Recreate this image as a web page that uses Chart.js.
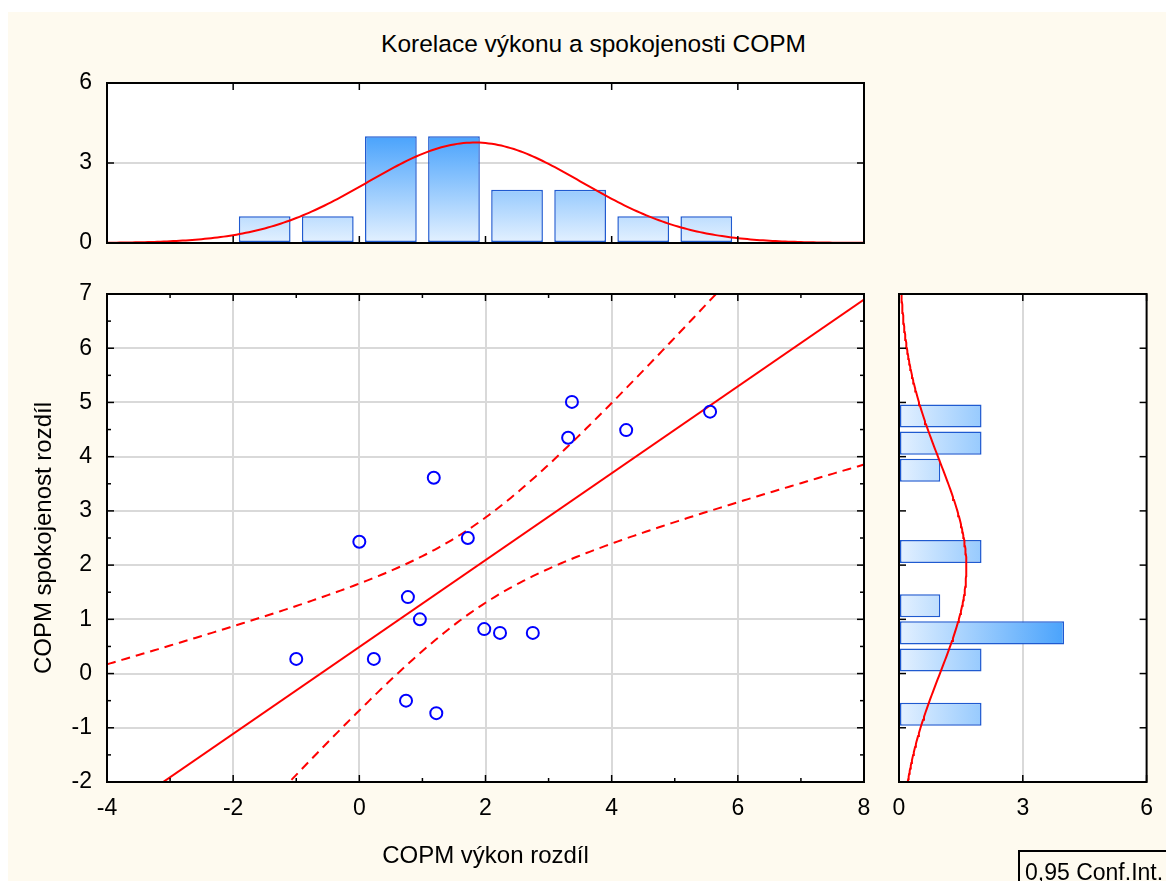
<!DOCTYPE html>
<html>
<head>
<meta charset="utf-8">
<script src="https://cdn.jsdelivr.net/npm/chart.js@4.4.0/dist/chart.umd.min.js"></script>
<style>
  body { margin: 0; width: 1166px; height: 881px; overflow: hidden; background: #fff; position: relative;
         font-family: "Liberation Sans", Arial, sans-serif; }
  #bg { position: absolute; left: 8px; top: 12px; width: 1158px; height: 869px; background: #fefaef; }
  canvas { position: absolute; left: 0; top: 0; }
  #title { position: absolute; left: 0; top: 31px; width: 1187px; text-align: center; font-size: 24.5px; line-height: 25px; color: #000; }
  #legend { position: absolute; left: 1018px; top: 850px; width: 200px; height: 40px; border: 2px solid #000;
            font-size: 23px; line-height: 40px; padding-left: 5px; color: #000; }
</style>
</head>
<body>
<div id="bg"></div>
<div id="title">Korelace výkonu a spokojenosti COPM</div>
<canvas id="topHist" width="1166" height="881"></canvas>
<canvas id="rightHist" width="1166" height="881"></canvas>
<canvas id="mainChart" width="1166" height="881"></canvas>
<div id="legend">0,95 Conf.Int.</div>
<script>
// values
const performanceDiff = [-1.0, 0.0, 0.23, 0.77, 0.96, 0.74, 1.22, 1.18, 1.72, 1.98, 2.23, 2.75, 3.31, 3.37, 4.23, 5.56];
const satisfactionDiff = [0.27, 2.43, 0.27, 1.41, 1.0, -0.5, -0.73, 3.61, 2.5, 0.82, 0.75, 0.75, 4.35, 5.01, 4.49, 4.83];

const topBins = [-1.5, -0.5, 0.5, 1.5, 2.5, 3.5, 4.5, 5.5];
const topCounts = [1, 1, 4, 4, 2, 2, 1, 1];
const topBinWidth = 1;

const rightBins = [-0.75, -0.25, 0.25, 0.75, 1.25, 1.75, 2.25, 2.75, 3.25, 3.75, 4.25, 4.75];
const rightCounts = [2, null, 2, 4, 1, null, 2, null, null, 1, 2, 2];
const rightBinWidth = 0.5;

const mainXTicks = [-4, -2, 0, 2, 4, 6, 8];
const mainYTicks = [-2, -1, 0, 1, 2, 3, 4, 5, 6, 7];
const histCountTicks = [0, 3, 6];

Chart.defaults.font.family = '"Liberation Sans", Arial, sans-serif';
Chart.defaults.color = '#000';

function steps(a, b, st) {
    const out = [];
    for (let v = a; v <= b + 1e-9; v += st) out.push(+v.toFixed(4));
    return out;
}

// regression + normal fits from the points
const n = performanceDiff.length;
const mean = a => a.reduce((s, v) => s + v, 0) / a.length;
const mx = mean(performanceDiff);
const my = mean(satisfactionDiff);
let sxx = 0, sxy = 0, syy = 0;
performanceDiff.forEach((x, i) => {
    const dx = x - mx, dy = satisfactionDiff[i] - my;
    sxx += dx * dx; sxy += dx * dy; syy += dy * dy;
});
const slope = sxy / sxx;
const intercept = my - slope * mx;
const se = Math.sqrt((syy - slope * sxy) / (n - 2));
const tCrit = 2.1448; // t(0.975, 14)
const sdX = Math.sqrt(sxx / (n - 1));
const sdY = Math.sqrt(syy / (n - 1));
const pdf = (v, m, s) => Math.exp(-0.5 * ((v - m) / s) ** 2) / (s * Math.sqrt(2 * Math.PI));

const xs = steps(-4, 8, 0.05);
const fitLine = [-4, 8].map(x => ({ x, y: intercept + slope * x }));
const band = sign => xs.map(x => ({
    x, y: intercept + slope * x + sign * tCrit * se * Math.sqrt(1 / n + (x - mx) ** 2 / sxx)
}));
const topCurve = xs.map(x => ({ x, y: n * topBinWidth * pdf(x, mx, sdX) }));
const rightCurve = steps(-2, 7, 0.05).map(y => ({ x: n * rightBinWidth * pdf(y, my, sdY), y }));

const GRID = '#d9d9d9';
const tickSet = arr => s => { s.ticks = arr.map(v => ({ value: v })); };

// white plot area, inner tick marks, black frame
function framePlugin(spec) {
    return {
        id: 'frame',
        beforeDraw(chart) {
            const a = chart.chartArea, ctx = chart.ctx;
            ctx.save();
            ctx.fillStyle = '#fff';
            ctx.fillRect(a.left, a.top, a.right - a.left, a.bottom - a.top);
            ctx.restore();
        },
        afterDraw(chart) {
            const a = chart.chartArea, ctx = chart.ctx;
            ctx.save();
            ctx.strokeStyle = '#000';
            ctx.lineWidth = 1.5;
            for (const axis in spec) {
                const s = chart.scales[axis];
                const sp = spec[axis];
                [[sp.major, 7], [sp.minor || [], 4]].forEach(([list, len]) => {
                    list.forEach(v => {
                        const p = s.getPixelForValue(v);
                        sp.sides.forEach(side => {
                            ctx.beginPath();
                            if (side === 'bottom') { ctx.moveTo(p, a.bottom); ctx.lineTo(p, a.bottom - len); }
                            if (side === 'top') { ctx.moveTo(p, a.top); ctx.lineTo(p, a.top + len); }
                            if (side === 'left') { ctx.moveTo(a.left, p); ctx.lineTo(a.left + len, p); }
                            if (side === 'right') { ctx.moveTo(a.right, p); ctx.lineTo(a.right - len, p); }
                            ctx.stroke();
                        });
                    });
                });
            }
            ctx.lineWidth = 2;
            ctx.strokeRect(a.left, a.top, a.right - a.left, a.bottom - a.top);
            ctx.restore();
        }
    };
}

const common = {
    responsive: false,
    animation: false,
    events: [],
    plugins: { legend: { display: false }, tooltip: { enabled: false } }
};

// main scatter
new Chart(document.getElementById('mainChart'), {
    type: 'scatter',
    data: {
        datasets: [
            {
                data: performanceDiff.map((x, i) => ({ x, y: satisfactionDiff[i] })),
                pointRadius: 6,
                pointBorderWidth: 2,
                pointBorderColor: '#0000ff',
                pointBackgroundColor: 'rgba(0,0,0,0)'
            },
            { data: fitLine, showLine: true, borderColor: '#ff0000', borderWidth: 2, pointRadius: 0 },
            { data: band(1), showLine: true, borderColor: '#ff0000', borderWidth: 2, borderDash: [9, 6], pointRadius: 0 },
            { data: band(-1), showLine: true, borderColor: '#ff0000', borderWidth: 2, borderDash: [9, 6], pointRadius: 0 }
        ]
    },
    options: {
        ...common,
        layout: { padding: { left: 0, right: 302, top: 294, bottom: 9 } },
        scales: {
            x: {
                type: 'linear', min: -4, max: 8,
                afterBuildTicks: tickSet(mainXTicks),
                afterFit: s => { s.height = 90; },
                grid: { color: GRID, lineWidth: 2, drawTicks: false },
                border: { display: false },
                ticks: { padding: 13, font: { size: 23 }, maxRotation: 0, callback: v => String(v) },
                title: { display: true, text: 'COPM výkon rozdíl', font: { size: 24 }, padding: { top: 0, bottom: 1 } }
            },
            y: {
                type: 'linear', min: -2, max: 7,
                afterBuildTicks: tickSet(mainYTicks),
                afterFit: s => { s.width = 107; },
                grid: { color: GRID, lineWidth: 2, drawTicks: false },
                border: { display: false },
                ticks: { padding: 15, font: { size: 23 }, callback: v => String(v) },
                title: { display: true, text: 'COPM spokojenost rozdíl', font: { size: 24 }, padding: { top: 30, bottom: 0 } }
            }
        }
    },
    plugins: [framePlugin({
        x: { major: mainXTicks, minor: steps(-3, 7, 2), sides: ['bottom', 'top'] },
        y: { major: mainYTicks, minor: steps(-1.5, 6.5, 1), sides: ['left', 'right'] }
    })]
});

// top histogram
new Chart(document.getElementById('topHist'), {
    type: 'bar',
    data: {
        datasets: [
            {
                type: 'line',
                data: topCurve,
                borderColor: '#ff0000', borderWidth: 2, pointRadius: 0
            },
            {
                data: topBins.map((x, i) => ({ x, y: topCounts[i] })),
                categoryPercentage: 1,
                barPercentage: 0.82,
                borderSkipped: false,
                borderColor: '#1f5ad0',
                borderWidth: 1.5,
                backgroundColor: c => {
                    const ch = c.chart;
                    if (!ch.chartArea) return '#a6d0fa';
                    const s = ch.scales.y;
                    const g = ch.ctx.createLinearGradient(0, s.getPixelForValue(0), 0, s.getPixelForValue(4));
                    g.addColorStop(0, '#e4f1ff');
                    g.addColorStop(1, '#4aa3fc');
                    return g;
                }
            }
        ]
    },
    options: {
        ...common,
        layout: { padding: { left: 0, right: 302, top: 83, bottom: 638 } },
        scales: {
            x: { type: 'linear', min: -4, max: 8, offset: false, display: false, grid: { offset: false } },
            y: {
                type: 'linear', min: 0, max: 6,
                afterBuildTicks: tickSet(histCountTicks),
                afterFit: s => { s.width = 107; },
                grid: { color: c => c.tick && c.tick.value === 3 ? GRID : 'rgba(0,0,0,0)', lineWidth: 2, drawTicks: false },
                border: { display: false },
                ticks: { padding: 15, font: { size: 23 } }
            }
        }
    },
    plugins: [framePlugin({
        x: { major: mainXTicks, sides: ['bottom', 'top'] },
        y: { major: histCountTicks, sides: ['left', 'right'] }
    })]
});

// right histogram
new Chart(document.getElementById('rightHist'), {
    type: 'bar',
    data: {
        datasets: [
            {
                type: 'line',
                indexAxis: 'y',
                data: rightCurve,
                borderColor: '#ff0000', borderWidth: 2, pointRadius: 0
            },
            {
                data: rightBins.map((y, i) => ({ x: rightCounts[i], y })),
                categoryPercentage: 1,
                barPercentage: 0.85,
                borderSkipped: false,
                borderColor: '#1f5ad0',
                borderWidth: 1.5,
                backgroundColor: c => {
                    const ch = c.chart;
                    if (!ch.chartArea) return '#a6d0fa';
                    const s = ch.scales.x;
                    const g = ch.ctx.createLinearGradient(s.getPixelForValue(0), 0, s.getPixelForValue(4), 0);
                    g.addColorStop(0, '#e4f1ff');
                    g.addColorStop(1, '#4aa3fc');
                    return g;
                }
            }
        ]
    },
    options: {
        ...common,
        indexAxis: 'y',
        layout: { padding: { left: 899, right: 17, top: 294, bottom: 9 } },
        scales: {
            x: {
                type: 'linear', min: 0, max: 6, offset: false,
                afterBuildTicks: tickSet(histCountTicks),
                afterFit: s => { s.height = 90; },
                grid: { color: c => c.tick && c.tick.value === 3 ? GRID : 'rgba(0,0,0,0)', lineWidth: 2, drawTicks: false },
                border: { display: false },
                ticks: { padding: 13, font: { size: 23 }, maxRotation: 0 }
            },
            y: { type: 'linear', min: -2, max: 7, offset: false, display: false, grid: { offset: false } }
        }
    },
    plugins: [framePlugin({
        x: { major: histCountTicks, sides: ['bottom', 'top'] },
        y: { major: mainYTicks, sides: ['left', 'right'] }
    })]
});
</script>
</body>
</html>
